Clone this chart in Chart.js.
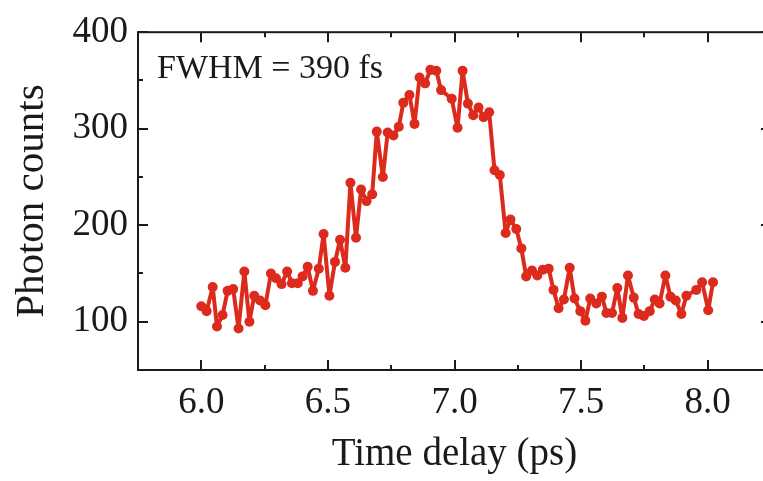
<!DOCTYPE html>
<html>
<head>
<meta charset="utf-8">
<script src="https://cdn.jsdelivr.net/npm/chart.js@4"></script>
<style>
  html, body { margin: 0; padding: 0; background: #fff; overflow: hidden; }
  #wrap { width: 790px; height: 481px; }
</style>
</head>
<body>
<div id="wrap"><canvas id="chart" width="790" height="481"></canvas></div>
<script>
// time delay (ps) and photon counts
const times = [
  6.000, 6.021, 6.045, 6.062, 6.084, 6.104, 6.126, 6.147, 6.170, 6.190,
  6.209, 6.232, 6.253, 6.275, 6.295, 6.317, 6.339, 6.358, 6.381, 6.400,
  6.420, 6.441, 6.464, 6.483, 6.506, 6.528, 6.548, 6.569, 6.589, 6.611,
  6.631, 6.653, 6.675, 6.693, 6.717, 6.736, 6.759, 6.780, 6.798, 6.822,
  6.842, 6.862, 6.884, 6.905, 6.928, 6.947, 6.989, 7.012, 7.032, 7.053,
  7.074, 7.095, 7.115, 7.137, 7.158, 7.179, 7.202, 7.221, 7.244, 7.264,
  7.283, 7.306, 7.327, 7.349, 7.372, 7.391, 7.411, 7.432, 7.455, 7.474,
  7.497, 7.517, 7.536, 7.560, 7.582, 7.600, 7.622, 7.643, 7.663, 7.685,
  7.708, 7.727, 7.748, 7.771, 7.791, 7.810, 7.833, 7.853, 7.874, 7.896,
  7.916, 7.955, 7.978, 8.002, 8.021
]
const counts = [
  116, 111, 136, 95, 107, 132, 134, 93, 152, 100,
  127, 122, 117, 150, 145, 139, 152, 140, 140, 147,
  157, 132, 155, 191, 127, 162, 185, 156, 244, 187,
  237, 225, 232, 297, 250, 296, 293, 302, 327, 335,
  305, 353, 347, 361, 360, 340, 331, 301, 360, 326,
  314, 322, 312, 317, 257, 252, 192, 206, 196, 176,
  147, 153, 148, 154, 155, 133, 114, 123, 156, 124,
  111, 101, 124, 119, 126, 109, 109, 135, 104, 148,
  125, 108, 106, 111, 123, 119, 148, 126, 122, 108,
  127, 133, 141, 112, 141
]
const xTickValues = [6.0, 6.5, 7.0, 7.5, 8.0]
const xMinorTicks = [6.25, 6.75, 7.25, 7.75]
const yTickValues = [100, 200, 300, 400]
const yMinorTicks = [150, 250, 350]

const serif = "'Liberation Serif', 'DejaVu Serif', serif"
const ink = "#1a1a1a"
const red = "#dc2a1c"

// frame, inward ticks on all four sides, and the FWHM note
const frameTicks = {
  id: "frameTicks",
  afterDraw(chart) {
    const { ctx, chartArea: a, scales: { x, y } } = chart
    ctx.save()
    ctx.strokeStyle = ink
    ctx.lineWidth = 2
    ctx.strokeRect(a.left, a.top, a.right - a.left, a.bottom - a.top)

    const xMarks = (vals, len) => {
      vals.forEach(v => {
        const px = Math.round(x.getPixelForValue(v))
        ctx.beginPath()
        ctx.moveTo(px, a.bottom); ctx.lineTo(px, a.bottom - len)
        ctx.moveTo(px, a.top); ctx.lineTo(px, a.top + len)
        ctx.stroke()
      })
    }
    const yMarks = (vals, len) => {
      vals.forEach(v => {
        const py = Math.round(y.getPixelForValue(v))
        ctx.beginPath()
        ctx.moveTo(a.left, py); ctx.lineTo(a.left + len, py)
        ctx.moveTo(a.right, py); ctx.lineTo(a.right - len, py)
        ctx.stroke()
      })
    }
    xMarks(xTickValues, 10)
    xMarks(xMinorTicks, 5)
    yMarks(yTickValues, 10)
    yMarks(yMinorTicks, 5)

    ctx.fillStyle = ink
    ctx.font = "34px " + serif
    ctx.textAlign = "left"
    ctx.textBaseline = "alphabetic"
    ctx.fillText("FWHM = 390 fs", a.left + 19, a.top + 46)
    ctx.restore()
  },
}

const ctx = document.getElementById("chart").getContext("2d")
new Chart(ctx, {
  type: "line",
  data: {
    datasets: [
      {
        data: times.map((t, i) => ({ x: t, y: counts[i] })),
        borderColor: red,
        backgroundColor: red,
        borderWidth: 4,
        borderJoinStyle: "round",
        borderCapStyle: "round",
        pointRadius: 5,
        pointBorderWidth: 0,
        pointBackgroundColor: red,
        tension: 0,
      },
    ],
  },
  options: {
    responsive: false,
    animation: false,
    devicePixelRatio: 1,
    layout: { padding: { top: 25, right: 19, left: 0, bottom: 0 } },
    plugins: { legend: { display: false }, tooltip: { enabled: false } },
    scales: {
      x: {
        type: "linear",
        min: 5.75,
        max: 8.25,
        afterBuildTicks: s => { s.ticks = xTickValues.map(v => ({ value: v })) },
        afterFit: s => { s.height = 111 },
        grid: { display: false, drawTicks: false },
        border: { display: false },
        ticks: {
          callback: v => v.toFixed(1),
          font: { family: serif, size: 37 },
          color: ink,
          padding: 11,
          maxRotation: 0,
          autoSkip: false,
        },
        title: {
          display: true,
          text: "Time delay (ps)",
          font: { family: serif, size: 39 },
          color: ink,
          padding: { top: 0, bottom: 3 },
        },
      },
      y: {
        min: 50,
        max: 400,
        afterBuildTicks: s => { s.ticks = yTickValues.map(v => ({ value: v })) },
        afterFit: s => { s.width = 138 },
        grid: { display: false, drawTicks: false },
        border: { display: false },
        ticks: {
          font: { family: serif, size: 37 },
          color: ink,
          padding: 10,
        },
        title: {
          display: true,
          text: "Photon counts",
          font: { family: serif, size: 41 },
          color: ink,
          padding: { top: 8, bottom: 0 },
        },
      },
    },
  },
  plugins: [frameTicks],
})
</script>
</body>
</html>
